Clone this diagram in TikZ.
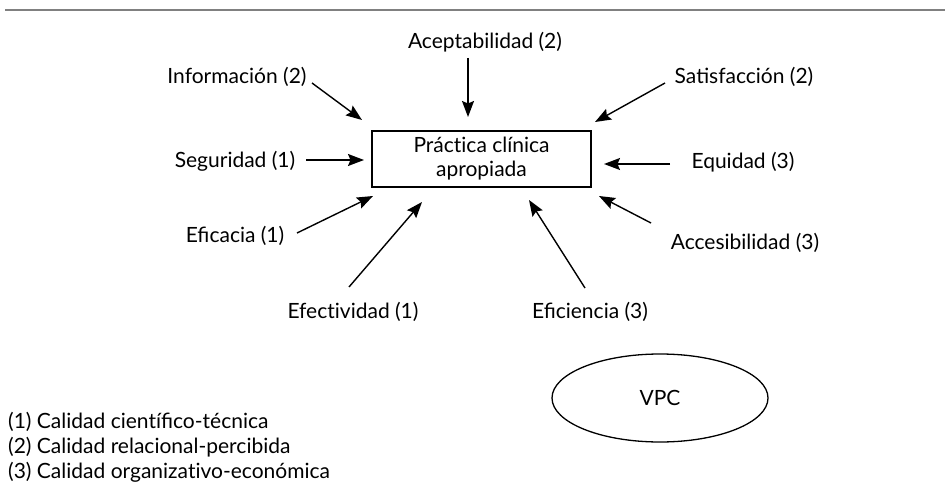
\documentclass[tikz,border=0pt]{standalone}
\usepackage{fontspec}
\setmainfont{Lato}
\usetikzlibrary{arrows.meta,shapes.geometric}
\newcommand{\nolig}{\kern0pt{}}
\begin{document}
\begin{tikzpicture}[x=1pt,y=-1pt,
  lbl/.style={font=\fontsize{21}{25}\selectfont, inner sep=0pt},
  arr/.style={draw, line width=1.4pt, -{Stealth[length=16pt,width=12pt,inset=2.5pt]}},
  hub/.style={draw, line width=1.5pt, minimum width=219pt, minimum height=56pt, align=center, font=\fontsize{21}{24}\selectfont, inner sep=0pt}
]
\useasboundingbox (0,0) rectangle (945,484);
\draw[line width=2.4pt, color=black!50] (5,10) -- (945,10);

\node[hub] (box) at (481.5,159) {Práct\nolig ica clínica\\apropiada};

\node[lbl] (acep) at (485,42) {Aceptabilidad (2)};
\node[lbl] (info) at (237,77) {Información (2)};
\node[lbl] (seg) at (235,161) {Seguridad (1)};
\node[lbl] (efic) at (235,236) {Eficacia (1)};
\node[lbl] (efec) at (353,312) {Efect\nolig ividad (1)};
\node[lbl] (efin) at (590,312) {Eficiencia (3)};
\node[lbl] (acce) at (745,243) {Accesibilidad (3)};
\node[lbl] (equi) at (743,162) {Equidad (3)};
\node[lbl] (sati) at (744,77) {Satisfacción (2)};

\coordinate (acepS) at (468,58);   \coordinate (acepE) at (468,117);
\coordinate (infoS) at (312,83);   \coordinate (infoE) at (362,120);
\coordinate (segS) at (306,160);   \coordinate (segE) at (364,160);
\coordinate (eficS) at (297,233);  \coordinate (eficE) at (373,196);
\coordinate (efecS) at (349,287);  \coordinate (efecE) at (422,202);
\coordinate (efinS) at (585,288);  \coordinate (efinE) at (529,200);
\coordinate (acceS) at (651,223);  \coordinate (acceE) at (599,196);
\coordinate (equiS) at (670,164);  \coordinate (equiE) at (604,164);
\coordinate (satiS) at (665,83);   \coordinate (satiE) at (595,122);

\foreach \n in {acep,info,seg,efic,efec,efin,acce,equi,sati}
  \draw[arr] (\n S) -- (\n E);

\node[draw, ellipse, line width=1.3pt, minimum width=216pt, minimum height=88pt, font=\fontsize{21}{25}\selectfont] (vpc) at (660,398) {VPC};

\node[lbl, anchor=base west] (l1) at (8,428) {(1) Calidad cient\nolig ífico-técnica};
\node[lbl, anchor=base west] (l2) at (8,453) {(2) Calidad relacional-percibida};
\node[lbl, anchor=base west] (l3) at (8,478) {(3) Calidad organizat\nolig ivo-económica};
\end{tikzpicture}
\end{document}
